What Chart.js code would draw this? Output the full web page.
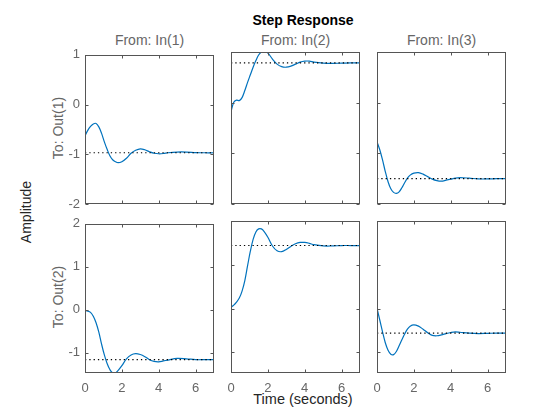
<!DOCTYPE html>
<html>
<head>
<meta charset="utf-8">
<script src="https://cdn.jsdelivr.net/npm/chart.js@4.4.1/dist/chart.umd.min.js"></script>
<style>
  body { margin: 0; background: #fff; width: 560px; height: 420px; position: relative; overflow: hidden;
         font-family: "Liberation Sans", Arial, sans-serif; }
  canvas { position: absolute; }
  .txt { position: absolute; white-space: nowrap; transform: translate(-50%, -50%); }
  .rot { transform: translate(-50%, -50%) rotate(-90deg); }
</style>
</head>
<body>
<div class="txt" style="left:303px;top:20px;font-size:14px;font-weight:bold;color:#000">Step Response</div>
<div class="txt" style="left:303px;top:399px;font-size:14.5px;color:#262626">Time (seconds)</div>
<div class="txt rot" style="left:26px;top:212px;font-size:14px;color:#262626">Amplitude</div>
<div id="labels"></div>

<script>
// time samples (seconds)
const time = [0, 0.15, 0.3, 0.45, 0.6, 0.75, 0.9, 1.05, 1.2, 1.35, 1.5, 1.65, 1.8, 2.0, 2.25,
              2.5, 2.75, 3.0, 3.25, 3.5, 3.75, 4.0, 4.25, 4.5, 5.0, 5.5, 6.0, 6.5, 7.0];

// step responses
const out1In1 = [-0.63, -0.52, -0.44, -0.39, -0.38, -0.45, -0.58, -0.75, -0.90, -1.03, -1.11, -1.15, -1.17, -1.15, -1.08,
                 -0.98, -0.92, -0.89, -0.91, -0.95, -0.98, -0.99, -0.985, -0.97, -0.955, -0.955, -0.965, -0.97, -0.97];
const out1In2 = [-0.18, 0.01, 0.05, 0.04, 0.10, 0.24, 0.40, 0.55, 0.70, 0.83, 0.94, 1.00, 1.02, 0.98, 0.86,
                 0.76, 0.71, 0.70, 0.72, 0.76, 0.80, 0.82, 0.82, 0.80, 0.78, 0.775, 0.78, 0.785, 0.785];
const out1In3 = [-0.77, -0.93, -1.13, -1.36, -1.56, -1.70, -1.77, -1.79, -1.76, -1.68, -1.58, -1.49, -1.43, -1.39, -1.38,
                 -1.41, -1.46, -1.51, -1.54, -1.55, -1.53, -1.51, -1.49, -1.48, -1.49, -1.505, -1.505, -1.50, -1.50];
const out2In1 = [-0.02, -0.03, -0.06, -0.15, -0.30, -0.52, -0.80, -1.05, -1.25, -1.39, -1.47, -1.47, -1.41, -1.30, -1.14,
                 -1.05, -1.02, -1.04, -1.09, -1.16, -1.20, -1.21, -1.19, -1.17, -1.13, -1.14, -1.16, -1.16, -1.16];
const out2In2 = [0.03, 0.08, 0.15, 0.24, 0.40, 0.64, 0.98, 1.31, 1.58, 1.75, 1.82, 1.82, 1.76, 1.63, 1.43,
                 1.32, 1.30, 1.35, 1.42, 1.48, 1.51, 1.51, 1.49, 1.46, 1.43, 1.43, 1.44, 1.44, 1.44];
const out2In3 = [0.01, -0.26, -0.53, -0.78, -0.95, -1.04, -1.05, -0.98, -0.85, -0.71, -0.58, -0.47, -0.40, -0.37, -0.40,
                 -0.47, -0.55, -0.61, -0.62, -0.60, -0.57, -0.545, -0.53, -0.54, -0.56, -0.57, -0.565, -0.56, -0.56];

// steady state values (dotted lines)
const finalValues = [[-0.97, 0.785, -1.50], [-1.16, 1.44, -0.56]];

const inputLabels = ["From: In(1)", "From: In(2)", "From: In(3)"];
const outputLabels = ["To: Out(1)", "To: Out(2)"];
const timeTicks = [0, 2, 4, 6];
const yTicksRow = [[-2, -1, 0, 1], [-1, 0, 1, 2]];
const yRangeRow = [[-2, 1], [-1.47, 2]];
const timeRange = [0, 7];

const responses = [[out1In1, out1In2, out1In3], [out2In1, out2In2, out2In3]];

// panel geometry
const colLeft = [85, 231, 377];
const rowTop = [52, 221];
const boxW = 129, boxH = 152;
const padL = 44, padR = 10, padT = 10, padB = 26;

const GRAY = "#666666";
const FONT = "'Liberation Sans', Arial, sans-serif";

// box with inward tick marks on all sides, like the matlab axes
const boxTicks = {
  id: "boxTicks",
  afterDraw(chart) {
    const { ctx, chartArea: a, scales } = chart;
    ctx.save();
    ctx.strokeStyle = "#555555";
    ctx.lineWidth = 1;
    const L = Math.round(a.left) + 0.5, R = Math.round(a.right) - 0.5;
    const T = Math.round(a.top) + 0.5, B = Math.round(a.bottom) - 0.5;
    ctx.beginPath();
    scales.x.ticks.forEach(t => {
      const px = Math.round(scales.x.getPixelForValue(t.value)) + 0.5;
      ctx.moveTo(px, T); ctx.lineTo(px, T + 3);
      ctx.moveTo(px, B); ctx.lineTo(px, B - 3);
    });
    scales.y.ticks.forEach(t => {
      const py = Math.round(scales.y.getPixelForValue(t.value)) + 0.5;
      ctx.moveTo(L, py); ctx.lineTo(L + 3, py);
      ctx.moveTo(R, py); ctx.lineTo(R - 3, py);
    });
    ctx.stroke();
    ctx.strokeRect(L, T, R - L, B - T);
    ctx.restore();
  }
};

function addText(html, x, y, size, color, rotate) {
  const d = document.createElement("div");
  d.className = rotate ? "txt rot" : "txt";
  d.style.left = x + "px";
  d.style.top = y + "px";
  d.style.fontSize = size + "px";
  d.style.color = color;
  d.textContent = html;
  document.getElementById("labels").appendChild(d);
}

inputLabels.forEach((s, c) => addText(s, colLeft[c] + boxW / 2, 40, 14, GRAY, false));
outputLabels.forEach((s, r) => addText(s, 57.5, rowTop[r] + boxH / 2, 14, GRAY, true));

for (let r = 0; r < 2; r++) {
  for (let c = 0; c < 3; c++) {
    const cv = document.createElement("canvas");
    const w = padL + boxW + padR, h = padT + boxH + padB;
    cv.width = w; cv.height = h;
    cv.style.width = w + "px"; cv.style.height = h + "px";
    cv.style.left = (colLeft[c] - padL) + "px";
    cv.style.top = (rowTop[r] - padT) + "px";
    document.body.appendChild(cv);

    const curve = time.map((t, i) => ({ x: t, y: responses[r][c][i] }));
    const steady = timeRange.map(t => ({ x: t, y: finalValues[r][c] }));

    new Chart(cv.getContext("2d"), {
      type: "line",
      data: {
        datasets: [
          {
            data: steady,
            borderColor: "#000000",
            borderWidth: 1.1,
            borderDash: [1.3, 3],
            pointRadius: 0,
            tension: 0
          },
          {
            data: curve,
            borderColor: "#0072BD",
            borderWidth: 1.2,
            pointRadius: 0,
            tension: 0.35
          }
        ]
      },
      options: {
        responsive: false,
        animation: false,
        devicePixelRatio: 1,
        layout: { padding: { left: 0, right: padR, top: padT, bottom: 0 } },
        plugins: { legend: { display: false }, tooltip: { enabled: false } },
        scales: {
          x: {
            type: "linear",
            min: timeRange[0],
            max: timeRange[1],
            afterBuildTicks: s => { s.ticks = timeTicks.map(v => ({ value: v })); },
            afterFit: s => { s.height = padB; },
            grid: { display: false, drawTicks: false },
            border: { display: false },
            ticks: {
              display: r === 1,
              color: GRAY,
              padding: 8,
              maxRotation: 0,
              font: { family: FONT, size: 13 }
            }
          },
          y: {
            type: "linear",
            min: yRangeRow[r][0],
            max: yRangeRow[r][1],
            afterBuildTicks: s => { s.ticks = yTicksRow[r].map(v => ({ value: v })); },
            afterFit: s => { s.width = padL; },
            grid: { display: false, drawTicks: false },
            border: { display: false },
            ticks: {
              display: c === 0,
              color: GRAY,
              padding: 5,
              font: { family: FONT, size: 13 }
            }
          }
        }
      },
      plugins: [boxTicks]
    });
  }
}
</script>
</body>
</html>
